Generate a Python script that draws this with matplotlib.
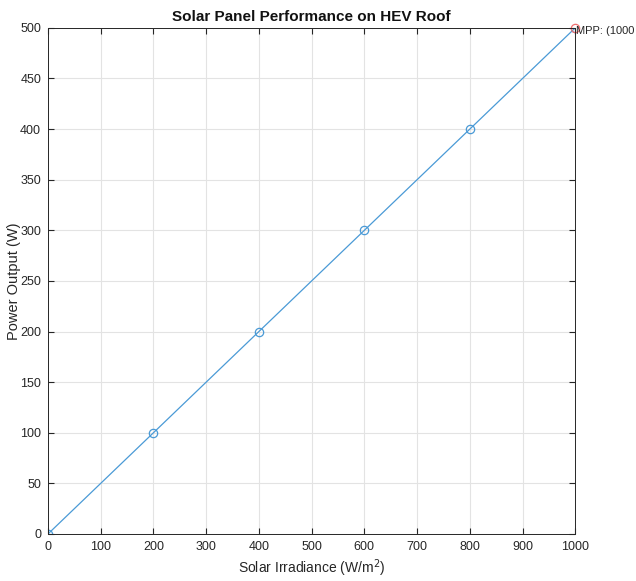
import numpy as np
import matplotlib
matplotlib.use('Agg')
import matplotlib.pyplot as plt

plt.rcParams['font.family'] = ['Liberation Sans', 'DejaVu Sans']

# data
irradiance = [0, 200, 400, 600, 800, 1000]
power = [0, 100, 200, 300, 400, 500]
mpp_x = 1000
mpp_y = 500
xticks = list(range(0, 1001, 100))
yticks = list(range(0, 501, 50))

fig = plt.figure(figsize=(6.36, 5.81), dpi=100)
ax = fig.add_axes([0.0755, 0.081, 0.829, 0.871])

ax.plot(irradiance, power, '-o', color='#4a9ad6', lw=0.9,
        markerfacecolor='none', markersize=6, markeredgewidth=0.9)
ax.plot(mpp_x, mpp_y, 'o', color='#f07070', markerfacecolor='none',
        markersize=6, markeredgewidth=0.9, clip_on=False)
ax.text(mpp_x + 1, mpp_y - 3, 'MPP: (1000', fontsize=8,
        color='#262626', ha='left', va='center', clip_on=False)

ax.set_xlim(0, 1000)
ax.set_ylim(0, 500)
ax.set_xticks(xticks)
ax.set_yticks(yticks)
ax.grid(True, color='#e3e3e3', lw=0.8)
ax.set_axisbelow(True)
ax.tick_params(direction='in', length=4, labelsize=9, colors='#262626', top=True, right=True,
               labeltop=False, labelright=False, pad=5)
for s in ax.spines.values():
    s.set_color('#262626')
    s.set_linewidth(0.7)

ax.set_title('Solar Panel Performance on HEV Roof', fontsize=11, fontweight='bold', color='#111111', pad=5)
ax.set_xlabel('Solar Irradiance (W/m$^2$)', fontsize=10, color='#262626')
ax.set_ylabel('Power Output (W)', fontsize=10.5, color='#262626')
ax.xaxis.set_label_coords(0.5, -0.047)
ax.yaxis.set_label_coords(-0.051, 0.5)

fig.savefig('out.png', dpi=100)
